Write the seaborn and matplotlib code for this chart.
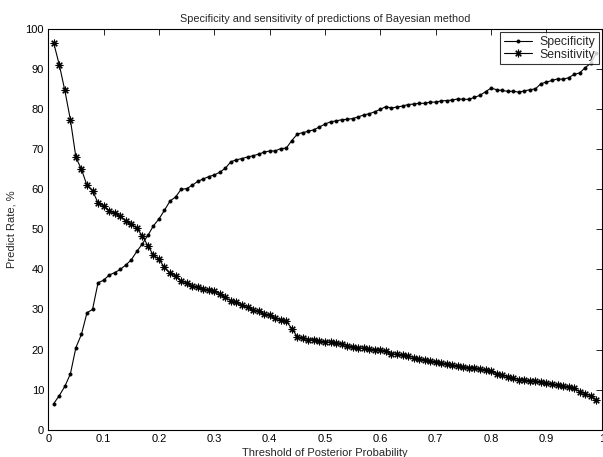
import numpy as np
import pandas as pd
import matplotlib
matplotlib.use("Agg")
import matplotlib.pyplot as plt
import seaborn as sns

sns.set_style("white")
plt.rcParams['font.family'] = ['Liberation Sans', 'DejaVu Sans']

# threshold grid 0.01 .. 0.99
thresholds = [
    0.01, 0.02, 0.03, 0.04, 0.05, 0.06, 0.07, 0.08, 0.09, 0.10,
    0.11, 0.12, 0.13, 0.14, 0.15, 0.16, 0.17, 0.18, 0.19, 0.20,
    0.21, 0.22, 0.23, 0.24, 0.25, 0.26, 0.27, 0.28, 0.29, 0.30,
    0.31, 0.32, 0.33, 0.34, 0.35, 0.36, 0.37, 0.38, 0.39, 0.40,
    0.41, 0.42, 0.43, 0.44, 0.45, 0.46, 0.47, 0.48, 0.49, 0.50,
    0.51, 0.52, 0.53, 0.54, 0.55, 0.56, 0.57, 0.58, 0.59, 0.60,
    0.61, 0.62, 0.63, 0.64, 0.65, 0.66, 0.67, 0.68, 0.69, 0.70,
    0.71, 0.72, 0.73, 0.74, 0.75, 0.76, 0.77, 0.78, 0.79, 0.80,
    0.81, 0.82, 0.83, 0.84, 0.85, 0.86, 0.87, 0.88, 0.89, 0.90,
    0.91, 0.92, 0.93, 0.94, 0.95, 0.96, 0.97, 0.98, 0.99,
]

specificity = [
    6.5, 8.5, 10.8, 13.9, 20.5, 23.8, 29.2, 30.0, 36.7, 37.3,
    38.6, 39.2, 40.0, 41.1, 42.4, 44.5, 46.4, 48.5, 50.9, 52.6,
    54.8, 57.1, 58.1, 60.0, 60.2, 61.0, 62.0, 62.6, 63.2, 63.6,
    64.3, 65.3, 66.9, 67.4, 67.7, 68.1, 68.4, 68.8, 69.3, 69.6,
    69.6, 70.2, 70.3, 72.2, 73.8, 74.2, 74.5, 74.9, 75.6, 76.3,
    76.9, 77.1, 77.4, 77.5, 77.7, 78.1, 78.6, 78.9, 79.4, 80.0,
    80.7, 80.3, 80.6, 80.8, 81.2, 81.3, 81.5, 81.5, 81.8, 81.8,
    82.1, 82.2, 82.3, 82.6, 82.5, 82.5, 83.0, 83.5, 84.4, 85.3,
    84.9, 84.7, 84.5, 84.5, 84.3, 84.6, 84.9, 85.1, 86.4, 86.8,
    87.2, 87.6, 87.5, 87.9, 88.7, 89.1, 90.4, 91.5, 94.0,
]

sensitivity = [
    96.5, 91.1, 84.7, 77.4, 68.0, 65.0, 61.0, 59.7, 56.6, 55.9,
    54.7, 54.0, 53.4, 52.1, 51.4, 50.3, 48.4, 45.9, 43.6, 42.5,
    40.5, 39.0, 38.4, 37.0, 36.7, 35.9, 35.5, 35.1, 34.9, 34.7,
    33.9, 33.0, 32.2, 31.8, 31.0, 30.5, 29.9, 29.5, 28.8, 28.5,
    27.9, 27.4, 27.1, 25.2, 23.2, 22.9, 22.5, 22.4, 22.1, 22.0,
    21.8, 21.7, 21.5, 21.0, 20.7, 20.5, 20.3, 20.1, 20.0, 19.9,
    19.6, 19.0, 18.8, 18.6, 18.4, 18.0, 17.7, 17.4, 17.1, 17.0,
    16.7, 16.3, 16.1, 15.9, 15.7, 15.5, 15.5, 15.1, 14.9, 14.6,
    14.0, 13.6, 13.2, 12.8, 12.5, 12.4, 12.2, 12.1, 11.9, 11.7,
    11.4, 11.1, 10.9, 10.7, 10.3, 9.5, 9.0, 8.4, 7.4,
]

df = pd.DataFrame({"threshold": thresholds,
                   "Specificity": specificity,
                   "Sensitivity": sensitivity})

fig = plt.figure(figsize=(6.03, 4.57), dpi=100)
ax = fig.add_axes([0.080, 0.060, 0.918, 0.876])

# matlab style markers: small dot and an 8-armed asterisk
sns.lineplot(data=df, x="threshold", y="Specificity", ax=ax, color="k",
             linewidth=0.8, marker=".", markersize=4.5, markeredgewidth=0.6,
             markeredgecolor="k", markerfacecolor="k", label="Specificity")
sns.lineplot(data=df, x="threshold", y="Sensitivity", ax=ax, color="k",
             linewidth=0.8, marker=(8, 2, 0), markersize=5.5, markeredgewidth=0.8,
             markeredgecolor="k", label="Sensitivity")

ax.set_xlim(0, 1)
ax.set_ylim(0, 100)
ax.set_xticks(np.arange(0, 1.01, 0.1))
ax.set_xticklabels(["0", "0.1", "0.2", "0.3", "0.4", "0.5", "0.6", "0.7", "0.8", "0.9", "1"])
ax.set_yticks(np.arange(0, 101, 10))

ax.tick_params(direction="in", length=4, width=0.6, top=True, right=True,
               labelsize=8, pad=3, colors="k")
for sp in ax.spines.values():
    sp.set_color("k")
    sp.set_linewidth(0.8)

ax.set_title("Specificity and sensitivity of predictions of Bayesian method",
             fontsize=7.8, pad=5)
ax.set_xlabel("Threshold of Posterior Probability", fontsize=8)
ax.set_ylabel("Predict Rate, %", fontsize=8)
ax.xaxis.set_label_coords(0.5, -0.047)
ax.yaxis.set_label_coords(-0.058, 0.5)

leg = ax.legend(loc="upper right", fontsize=8.8, frameon=True, fancybox=False,
                borderaxespad=0.25, handlelength=2.3, borderpad=0.3,
                labelspacing=0.05, handletextpad=0.6)
leg.get_frame().set_edgecolor("k")
leg.get_frame().set_linewidth(0.8)

fig.savefig("out.png", dpi=100)
